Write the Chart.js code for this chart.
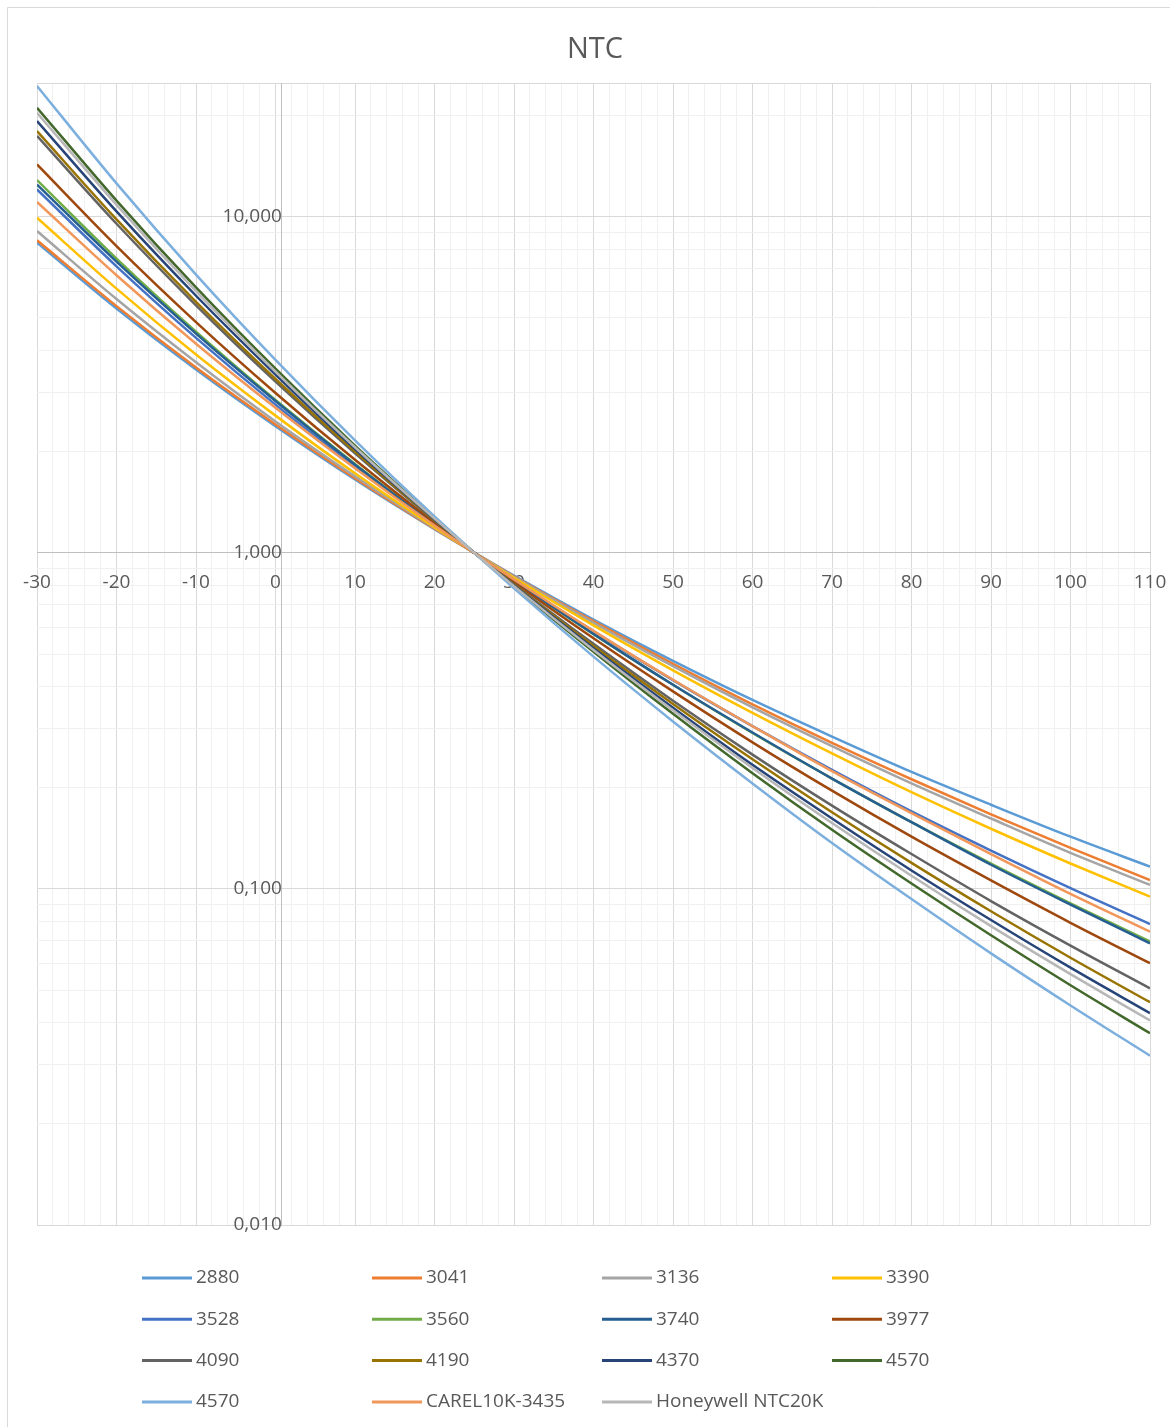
<!DOCTYPE html>
<html>
<head>
<meta charset="utf-8">
<title>NTC</title>
<script src="https://cdn.jsdelivr.net/npm/chart.js@4.4.1/dist/chart.umd.min.js"></script>
<style>
    html, body { margin: 0; padding: 0; background: #ffffff; }
    #wrap { width: 1170px; height: 1427px; }
</style>
</head>
<body>
<div id="wrap"><canvas id="ntc-chart" width="1170" height="1427"></canvas></div>
<script>
// 온도 (°C)
const temps = [-30, -20, -10, 0, 10, 20, 30, 40, 50, 60, 70, 80, 90, 100, 110];

// R/R25 값
const r2880 = [8.37, 5.33, 3.51, 2.38, 1.652, 1.176, 0.855, 0.633, 0.477, 0.365, 0.284, 0.223, 0.178, 0.143, 0.1165];
const r3041 = [8.51, 5.42, 3.56, 2.41, 1.667, 1.180, 0.852, 0.626, 0.467, 0.354, 0.272, 0.212, 0.1667, 0.1325, 0.1063];
const r3136 = [9.07, 5.69, 3.69, 2.46, 1.689, 1.185, 0.848, 0.619, 0.460, 0.347, 0.266, 0.206, 0.162, 0.128, 0.1028];
const r3390 = [9.93, 6.11, 3.89, 2.56, 1.724, 1.192, 0.843, 0.608, 0.447, 0.334, 0.253, 0.194, 0.151, 0.119, 0.0948];
const r3528 = [12.06, 7.12, 4.36, 2.76, 1.804, 1.210, 0.831, 0.584, 0.418, 0.305, 0.226, 0.170, 0.130, 0.1005, 0.0786];
const r3560 = [12.86, 7.51, 4.55, 2.85, 1.838, 1.218, 0.826, 0.573, 0.405, 0.291, 0.213, 0.158, 0.119, 0.0906, 0.0698];
const r3740 = [12.47, 7.35, 4.49, 2.83, 1.830, 1.216, 0.827, 0.574, 0.405, 0.292, 0.213, 0.158, 0.118, 0.0898, 0.0689];
const r3977 = [14.31, 8.18, 4.86, 2.99, 1.891, 1.229, 0.818, 0.557, 0.387, 0.273, 0.196, 0.143, 0.106, 0.0793, 0.0601];
const r4090 = [17.40, 9.53, 5.45, 3.23, 1.977, 1.247, 0.807, 0.536, 0.363, 0.251, 0.177, 0.127, 0.0920, 0.0678, 0.0506];
const r4190 = [17.98, 9.82, 5.58, 3.29, 2.000, 1.252, 0.804, 0.528, 0.355, 0.243, 0.169, 0.1195, 0.0858, 0.0624, 0.0460];
const r4370 = [19.26, 10.37, 5.82, 3.39, 2.034, 1.259, 0.800, 0.520, 0.346, 0.234, 0.162, 0.1135, 0.0808, 0.0583, 0.0427];
const r4570 = [21.10, 11.17, 6.16, 3.53, 2.085, 1.269, 0.793, 0.508, 0.332, 0.221, 0.150, 0.1038, 0.0728, 0.0517, 0.0372];
const r4570b = [24.50, 12.57, 6.73, 3.75, 2.160, 1.284, 0.784, 0.491, 0.315, 0.206, 0.137, 0.0933, 0.0643, 0.0450, 0.0319];
const rCarel = [11.06, 6.70, 4.19, 2.70, 1.784, 1.206, 0.833, 0.586, 0.419, 0.305, 0.224, 0.168, 0.127, 0.0967, 0.0746];
const rHoneywell = [20.39, 10.85, 6.01, 3.46, 2.061, 1.264, 0.796, 0.514, 0.340, 0.229, 0.157, 0.1094, 0.0775, 0.0558, 0.0406];

const seriesNames = ['2880', '3041', '3136', '3390', '3528', '3560', '3740', '3977',
    '4090', '4190', '4370', '4570', '4570', 'CAREL10K-3435', 'Honeywell NTC20K'];
const seriesValues = [r2880, r3041, r3136, r3390, r3528, r3560, r3740, r3977,
    r4090, r4190, r4370, r4570, r4570b, rCarel, rHoneywell];
const seriesColors = ['#5B9BD5', '#ED7D31', '#A5A5A5', '#FFC000', '#4472C4', '#70AD47', '#255E91', '#9E480E',
    '#636363', '#997300', '#264478', '#43682B', '#7CAFDD', '#F1975A', '#B7B7B7'];

// 축 눈금
const yDecades = [0.01, 0.1, 1, 10];
const yMax = 25;
const xMin = -30;
const xMax = 110;

const TEXT_COLOR = '#595959';
const FONT = '"Open Sans", "Noto Sans", sans-serif';

function isPow10(v) {
    const l = Math.log10(v);
    return Math.abs(l - Math.round(l)) < 1e-6;
}

// 로그축 보조 눈금 (1..9 x 10^n)
function buildYTicks() {
    const ticks = [];
    yDecades.forEach(d => {
        for (let m = 1; m <= 9; m++) {
            const v = +(d * m).toPrecision(6);
            if (v <= yMax) ticks.push(v);
        }
    });
    ticks.push(yMax);
    return ticks;
}

// 축 라벨 여백이 플롯 영역을 줄이지 않도록
function noLabelPadding(scale) {
    scale.paddingLeft = 0;
    scale.paddingRight = 0;
    scale.paddingTop = 0;
    scale.paddingBottom = 0;
}

// 제목, 테두리, 범례 그리기
const decorPlugin = {
    id: 'ntcDecor',
    beforeDraw(chart) {
        const ctx = chart.ctx;
        ctx.save();
        ctx.fillStyle = '#ffffff';
        ctx.fillRect(0, 0, chart.width, chart.height);
        ctx.strokeStyle = '#d9d9d9';
        ctx.lineWidth = 1;
        ctx.beginPath();
        ctx.moveTo(7.5, chart.height);
        ctx.lineTo(7.5, 7.5);
        ctx.lineTo(chart.width, 7.5);
        ctx.stroke();
        ctx.restore();
    },
    afterDraw(chart) {
        const ctx = chart.ctx;
        ctx.save();

        // 제목
        ctx.fillStyle = TEXT_COLOR;
        ctx.font = '29px ' + FONT;
        ctx.textAlign = 'center';
        ctx.textBaseline = 'middle';
        ctx.fillText('NTC', 595, 50);

        // 범례 (4열)
        ctx.font = '19px ' + FONT;
        ctx.textAlign = 'left';
        chart.data.datasets.forEach((ds, i) => {
            const col = i % 4;
            const row = Math.floor(i / 4);
            const x0 = 142 + col * 230;
            const y = 1278 + row * 41.3;
            ctx.strokeStyle = ds.borderColor;
            ctx.lineWidth = 3;
            ctx.beginPath();
            ctx.moveTo(x0, y);
            ctx.lineTo(x0 + 50, y);
            ctx.stroke();
            ctx.fillStyle = TEXT_COLOR;
            ctx.fillText(ds.label, x0 + 54, y);
        });
        ctx.restore();
    }
};

const yTicks = buildYTicks();

const datasets = seriesNames.map((name, i) => ({
    label: name,
    data: temps.map((t, k) => ({ x: t, y: seriesValues[i][k] })),
    borderColor: seriesColors[i],
    backgroundColor: seriesColors[i],
    borderWidth: 2.5,
    pointRadius: 0,
    pointHoverRadius: 0,
    cubicInterpolationMode: 'monotone',
    fill: false,
    order: seriesNames.length - i
}));

new Chart(document.getElementById('ntc-chart'), {
    type: 'line',
    data: { datasets: datasets },
    options: {
        responsive: false,
        animation: false,
        devicePixelRatio: 1,
        layout: { padding: { left: 37, top: 83, right: 20, bottom: 202 } },
        plugins: {
            legend: { display: false },
            title: { display: false },
            tooltip: { enabled: false }
        },
        scales: {
            x: {
                type: 'linear',
                min: xMin,
                max: xMax,
                position: { y: 1 },
                afterFit: noLabelPadding,
                grid: {
                    color: ctx => (ctx.tick && ctx.tick.value % 10 === 0 ? '#d9d9d9' : '#f0f0f0'),
                    lineWidth: 1,
                    drawTicks: false
                },
                border: { display: true, color: '#bfbfbf', width: 1 },
                ticks: {
                    stepSize: 2,
                    autoSkip: false,
                    maxRotation: 0,
                    padding: 18,
                    color: TEXT_COLOR,
                    font: { family: FONT, size: 19 },
                    callback: v => (v % 10 === 0 ? String(v) : '')
                }
            },
            y: {
                type: 'logarithmic',
                min: yDecades[0],
                max: yMax,
                position: { x: 0.8 },
                afterFit: noLabelPadding,
                afterBuildTicks: scale => {
                    scale.ticks = yTicks.map(v => ({ value: v }));
                },
                grid: {
                    color: ctx => {
                        if (!ctx.tick) return '#f0f0f0';
                        if (ctx.tick.value === 1) return '#bfbfbf';
                        if (isPow10(ctx.tick.value) || ctx.tick.value === yMax) return '#d9d9d9';
                        return '#f0f0f0';
                    },
                    lineWidth: 1,
                    drawTicks: false
                },
                border: { display: true, color: '#bfbfbf', width: 1 },
                ticks: {
                    autoSkip: false,
                    padding: 20,
                    color: TEXT_COLOR,
                    font: { family: FONT, size: 19 },
                    callback: v => (isPow10(v) ? v.toFixed(3).replace('.', ',') : '')
                }
            }
        }
    },
    plugins: [decorPlugin]
});
</script>
</body>
</html>
